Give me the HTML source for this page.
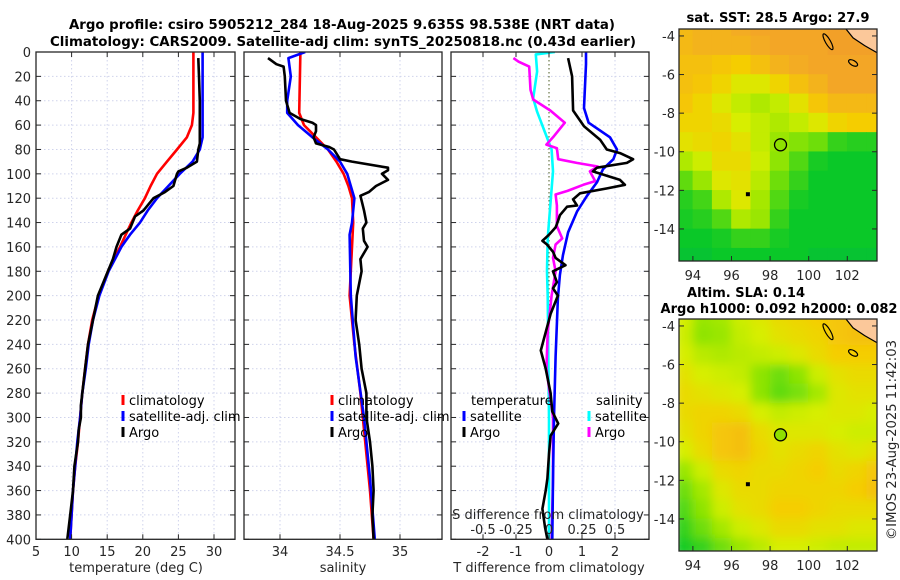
<!DOCTYPE html>
<html><head><meta charset="utf-8">
<style>
html,body{margin:0;padding:0;background:#fff;}
svg{display:block;font-family:"DejaVu Sans","Liberation Sans",sans-serif;}
.tk{font-size:13px;fill:#262626;}
.ttl{font-size:13.5px;font-weight:bold;fill:#000;}
.lg{font-size:13px;fill:#000;}
</style></head>
<body>
<svg id="fig" width="900" height="580" viewBox="0 0 900 580" xmlns="http://www.w3.org/2000/svg">
<defs>
<clipPath id="c1"><rect x="36" y="52" width="199" height="487"/></clipPath>
<clipPath id="c2"><rect x="244" y="52" width="198" height="487"/></clipPath>
<clipPath id="c3"><rect x="451" y="52" width="198" height="487"/></clipPath>
<clipPath id="m1"><rect x="679" y="29" width="198" height="232"/></clipPath>
<clipPath id="m2"><rect x="679" y="319" width="198" height="232"/></clipPath>
<filter id="blur" x="-5%" y="-5%" width="110%" height="110%"><feGaussianBlur stdDeviation="5"/></filter>
</defs>
<text class="ttl" x="342" y="29" text-anchor="middle" textLength="546" lengthAdjust="spacingAndGlyphs">Argo profile: csiro 5905212_284 18-Aug-2025 9.635S 98.538E (NRT data)</text>
<text class="ttl" x="343" y="46" text-anchor="middle" textLength="586" lengthAdjust="spacingAndGlyphs">Climatology: CARS2009. Satellite-adj clim: synTS_20250818.nc (0.43d earlier)</text>
<g id="g1"></g>
<g id="g2"></g>
<g id="g3"></g>
<g id="gm1"></g>
<g id="gm2"></g>
<text class="ttl" x="778" y="22" text-anchor="middle" textLength="183" lengthAdjust="spacingAndGlyphs">sat. SST: 28.5 Argo: 27.9</text>
<text class="ttl" x="746" y="297" text-anchor="middle" textLength="118" lengthAdjust="spacingAndGlyphs">Altim. SLA: 0.14</text>
<text class="ttl" x="779" y="313" text-anchor="middle" textLength="237" lengthAdjust="spacingAndGlyphs">Argo h1000: 0.092 h2000: 0.082</text>
<text class="tk" x="0" y="0" transform="translate(896,440) rotate(-90)" text-anchor="middle" textLength="200" lengthAdjust="spacingAndGlyphs">©IMOS 23-Aug-2025 11:42:03</text>
</svg>
<script>
// ---------- profile data ----------
const tempDepth = [0,10,20,30,40,50,60,70,80,90,100,110,120,130,140,150,160,180,200,220,240,260,280,300,320,340,360,380,400];
const tempClim = [27.1,27.1,27.1,27.1,27.1,27.1,26.9,26.2,24.8,23.4,22.0,21.1,20.3,19.3,18.4,17.6,16.8,15.1,13.8,12.9,12.3,11.9,11.5,11.2,10.9,10.5,10.2,10.0,9.8];
const tempSat = [28.4,28.4,28.4,28.4,28.4,28.4,28.4,28.4,28.0,27.0,25.2,23.6,22.0,20.7,19.6,18.2,17.0,15.2,13.9,13.0,12.4,12.0,11.5,11.2,10.8,10.5,10.2,10.0,9.8];
const argoTDepth = [5,20,40,60,75,80,90,95,98,100,110,115,120,130,135,145,150,160,170,180,190,200,220,240,260,280,290,300,310,320,340,360,380,400];
const argoT = [27.8,27.9,28.0,28.0,28.0,27.8,27.6,26.2,25.0,24.8,24.3,23.1,21.5,20.1,18.9,18.2,17.0,16.3,15.8,15.1,14.4,13.7,13.0,12.3,11.9,11.5,11.3,11.3,11.0,10.9,10.4,10.2,9.8,9.4];

const salDepth = [0,50,60,70,80,90,100,110,120,140,160,200,240,280,320,360,400];
const salClim = [34.17,34.16,34.2,34.3,34.4,34.47,34.53,34.57,34.6,34.61,34.6,34.58,34.62,34.67,34.71,34.75,34.78];
const salSatDepth = [0,5,20,40,50,60,70,80,90,100,120,140,150,200,250,300,350,400];
const salSat = [34.21,34.07,34.09,34.06,34.06,34.15,34.27,34.4,34.5,34.56,34.62,34.6,34.58,34.59,34.63,34.7,34.75,34.79];
const argoSDepth = [5,10,12,20,40,50,55,58,60,65,70,75,78,80,88,90,95,97,100,105,110,115,118,122,130,140,145,155,160,170,180,200,220,240,260,280,300,320,340,360,380,400];
const argoS = [33.9,33.97,34.03,34.04,34.05,34.08,34.17,34.27,34.3,34.3,34.28,34.3,34.41,34.45,34.5,34.6,34.9,34.9,34.85,34.9,34.8,34.74,34.67,34.68,34.7,34.72,34.69,34.7,34.73,34.67,34.68,34.64,34.63,34.66,34.68,34.72,34.72,34.75,34.77,34.78,34.77,34.78];

const tdSatDepth = [0,10,46,58,70,80,88,96,107,118,131,148,167,183,202,250,300,350,400];
const tdSat = [1.12,1.12,1.06,1.2,1.85,2.06,1.95,1.64,1.45,1.15,0.85,0.58,0.42,0.33,0.27,0.2,0.15,0.12,0.1];
const tdArgoDepth = [5,20,48,61,72,80,83,88,91,95,98,105,109,112,116,121,126,127,134,139,144,150,155,158,164,169,175,180,189,194,200,215,230,245,260,280,295,305,315,330,350,360,375,390,400];
const tdArgo = [0.58,0.7,0.73,1.06,1.55,1.75,2.15,2.55,2.36,1.45,1.33,2.15,2.3,1.76,0.94,0.73,0.85,0.55,0.33,0.27,0.2,0,-0.2,-0.06,0.12,0.2,0.5,0.12,0.24,0.12,0.27,0.05,-0.1,-0.25,-0.1,0.05,0.1,0.28,0.05,0,-0.05,-0.1,-0.2,-0.12,-0.05];
const sdSatDepth = [0,2,16,38,49,66,80,98,126,153,180,200,300,400];
const sdSat = [0.045,-0.1,-0.09,-0.12,-0.09,-0.03,0.02,0.03,0.01,-0.01,-0.015,-0.01,0,0];
const sdArgoDepth = [5,8,12,31,39,48,58,70,76,79,88,91,94,98,106,109,114,117,126,143,153,158,169,180,200,230,260,300,350,400];
const sdArgo = [-0.27,-0.23,-0.15,-0.14,-0.12,0.01,0.12,0.03,-0.02,0.06,0.07,0.21,0.37,0.31,0.35,0.26,0.14,0.05,0.06,0.06,0.1,0.05,0.03,0.05,0.02,-0.01,-0.02,0.03,0.03,0.02];

const depthTicks = [0,20,40,60,80,100,120,140,160,180,200,220,240,260,280,300,320,340,360,380,400];
const tempTicks = [5,10,15,20,25,30];
const salTicks = [34,34.5,35];
const tdTicks = [-2,-1,0,1,2];
const sdTicks = [-0.5,-0.25,0,0.25,0.5];
const sdTickLabels = ['-0.5','-0.25','0','0.25','0.5'];

// ---------- map data (color index 0 green .. 3 orange) ----------
const mapLon = [93.5,94.5,95.5,96.5,97.5,98.5,99.5,100.5,101.5,102.5,103.5];
const mapLat = [-3.5,-4.5,-5.5,-6.5,-7.5,-8.5,-9.5,-10.5,-11.5,-12.5,-13.5,-14.5,-15.5];
const sstGrid = [
[2.8,2.9,2.9,3,3.1,3.1,3.1,3.1,3.2,3.2,3.2],
[2.8,2.9,2.9,2.9,3,3.1,3.1,3.1,3.2,3.2,3.2],
[2.7,2.7,2.6,2.5,2.7,2.9,3,3.1,3.1,3.1,3.1],
[2.7,2.6,2.4,2.1,2.1,2.4,2.7,2.9,3.1,3.1,3.1],
[2.6,2.4,2.1,1.8,1.6,1.8,2.2,2.6,2.8,2.8,2.8],
[2.4,2.4,2.3,2.0,1.8,1.6,1.8,2.1,2.4,2.5,2.5],
[2.2,2.3,2.4,2.2,1.8,1.4,1.2,1.0,0.6,0.5,0.5],
[1.6,1.9,2.3,2.3,1.9,1.3,0.8,0.4,0.3,0.3,0.3],
[0.9,1.4,2.1,2.2,1.7,1.0,0.6,0.3,0.3,0.3,0.3],
[0.5,0.7,1.6,2.1,1.5,0.8,0.4,0.3,0.3,0.3,0.3],
[0.4,0.5,0.8,1.6,1.4,0.6,0.3,0.3,0.3,0.3,0.3],
[0.3,0.3,0.4,0.6,0.6,0.4,0.3,0.3,0.3,0.3,0.3],
[0.2,0.2,0.3,0.3,0.3,0.3,0.3,0.2,0.2,0.2,0.2]];
const slaGrid = [
[2.0,1.4,1.5,1.9,2.1,2.3,2.4,2.5,2.6,2.7,2.8],
[1.9,1.3,1.4,1.8,2.0,2.2,2.3,2.4,2.6,2.7,2.7],
[2.0,1.7,1.6,1.7,1.8,1.9,2.1,2.3,2.5,2.5,2.5],
[2.2,2.0,1.9,1.8,1.3,1.0,1.3,1.9,2.2,2.3,2.3],
[2.3,2.2,2.1,2.0,1.3,0.9,1.1,1.5,2.1,2.2,2.2],
[2.3,2.4,2.4,2.3,2.0,1.8,1.9,2.0,2.1,2.1,2.0],
[2.2,2.4,2.6,2.7,2.3,2.1,2.1,2.1,2.0,1.9,1.9],
[2.0,2.3,2.6,2.7,2.4,2.2,2.3,2.4,2.2,2.1,2.2],
[1.4,1.9,2.3,2.4,2.3,2.3,2.4,2.5,2.3,2.4,2.6],
[1.0,1.5,2.1,2.3,2.3,2.4,2.4,2.4,2.4,2.5,2.7],
[0.8,1.3,1.9,2.2,2.3,2.5,2.5,2.4,2.3,2.3,2.3],
[0.6,1.0,1.5,1.9,2.1,2.3,2.3,2.2,2.2,2.1,2.1],
[0.4,0.6,1.0,1.4,1.7,2.0,2.0,1.9,1.8,1.8,1.8]];
const lonTicks = [94,96,98,100,102];
const latTicks = [-4,-6,-8,-10,-12,-14];
const argoPos = [98.54,-9.64];
const otherPos = [96.85,-12.2];

const NS = 'http://www.w3.org/2000/svg';
function mk(tag, attrs, parent){const e=document.createElementNS(NS,tag);for(const k in attrs)e.setAttribute(k,attrs[k]);parent.appendChild(e);return e;}

const Y0=52, Y1=539.3;
const yD = d => Y0 + d*(Y1-Y0)/400;
const xT = t => 36 + (t-5)*35.6/5;
const xS = s => 280 + (s-34)*120;
const xTd = v => 549 + v*33;
const xSd = v => 549 + v*132;

function frame(g, x0, x1, clip, xticks, xf){
  for(const d of depthTicks){ const l=mk('line',{x1:x0,x2:x1,y1:yD(d),y2:yD(d),stroke:'#cfd3ec','stroke-width':1,'stroke-dasharray':'1.5,2.5'},g);
      }
  xticks.forEach(t=>{ const l=mk('line',{x1:xf(t),x2:xf(t),y1:Y0,y2:Y1,stroke:'#cfd3ec','stroke-width':1,'stroke-dasharray':'1.5,2.5'},g);
      });
}
function box(g,x0,x1,xticks,xf,labels){
  const r=mk('rect',{x:x0,y:Y0,width:x1-x0,height:Y1-Y0,fill:'none',stroke:'#262626','stroke-width':1.3},g);
   
  for(const d of depthTicks){ mk('line',{x1:x0,x2:x0+5,y1:yD(d),y2:yD(d),stroke:'#262626'},g); mk('line',{x1:x1-5,x2:x1,y1:yD(d),y2:yD(d),stroke:'#262626'},g);}
  xticks.forEach((t,i)=>{ mk('line',{x1:xf(t),x2:xf(t),y1:Y1,y2:Y1-5,stroke:'#262626'},g); mk('line',{x1:xf(t),x2:xf(t),y1:Y0,y2:Y0+5,stroke:'#262626'},g);
    const tx=mk('text',{x:xf(t),y:556,'text-anchor':'middle',class:'tk'},g); tx.textContent=labels[i];
      });
}
function line(g, depths, vals, xf, color, name, clip){
  let d=''; depths.forEach((z,i)=>{ d+=(i?'L':'M')+xf(vals[i]).toFixed(1)+','+yD(z).toFixed(1); });
  const p=mk('path',{d:d,fill:'none',stroke:color,'stroke-width':2.6,'stroke-linejoin':'round','clip-path':'url(#'+clip+')'},g);
   
}
function legend(g, x, y, color, label){
  mk('line',{x1:x,x2:x,y1:y-7,y2:y+3,stroke:color,'stroke-width':3},g);
  const t=mk('text',{x:x+6,y:y+3,class:'lg'},g); t.textContent=label;
   
}

// Panel 1
const g1=document.getElementById('g1');
frame(g1,36,235,'c1',tempTicks,xT);
line(g1,tempDepth,tempClim,xT,'#ff0000','temp-climatology-line','c1');
line(g1,tempDepth,tempSat,xT,'#0000ff','temp-satellite-line','c1');
line(g1,argoTDepth,argoT,xT,'#000000','temp-argo-line','c1');
box(g1,36,235,tempTicks,xT,tempTicks.map(String));
depthTicks.forEach(d=>{ const t=mk('text',{x:31,y:yD(d)+5,'text-anchor':'end',class:'tk'},g1); t.textContent=d;
    });
{const t=mk('text',{x:136,y:572,'text-anchor':'middle',class:'tk'},g1); t.textContent='temperature (deg C)';
  }
legend(g1,123,402,'#ff0000','climatology');
legend(g1,123,418,'#0000ff','satellite-adj. clim');
legend(g1,123,434,'#000000','Argo');

// Panel 2
const g2=document.getElementById('g2');
frame(g2,244,442,'c2',salTicks,xS);
line(g2,salDepth,salClim,xS,'#ff0000','sal-climatology-line','c2');
line(g2,salSatDepth,salSat,xS,'#0000ff','sal-satellite-line','c2');
line(g2,argoSDepth,argoS,xS,'#000000','sal-argo-line','c2');
box(g2,244,442,salTicks,xS,['34','34.5','35']);
{const t=mk('text',{x:343,y:572,'text-anchor':'middle',class:'tk'},g2); t.textContent='salinity';
  }
legend(g2,332,402,'#ff0000','climatology');
legend(g2,332,418,'#0000ff','satellite-adj. clim');
legend(g2,332,434,'#000000','Argo');

// Panel 3
const g3=document.getElementById('g3');
frame(g3,451,649,'c3',tdTicks,xTd);
mk('line',{x1:549,x2:549,y1:Y0,y2:Y1,stroke:'#4a5a20','stroke-width':1,'stroke-dasharray':'1.5,2.5'},g3);
line(g3,sdSatDepth,sdSat,xSd,'#00ffff','sdiff-satellite-line','c3');
line(g3,sdArgoDepth,sdArgo,xSd,'#ff00ff','sdiff-argo-line','c3');
line(g3,tdSatDepth,tdSat,xTd,'#0000ff','tdiff-satellite-line','c3');
line(g3,tdArgoDepth,tdArgo,xTd,'#000000','tdiff-argo-line','c3');
box(g3,451,649,tdTicks,xTd,tdTicks.map(String));
sdTicks.forEach((v,i)=>{ const t=mk('text',{x:xSd(v),y:534,'text-anchor':'middle',class:'tk'},g3); t.textContent=sdTickLabels[i];
    });
{const t=mk('text',{x:548,y:519,'text-anchor':'middle',class:'tk'},g3); t.textContent='S difference from climatology';
  }
{const t=mk('text',{x:549,y:572,'text-anchor':'middle',class:'tk'},g3); t.textContent='T difference from climatology';
  }
{const t=mk('text',{x:471,y:405,class:'lg'},g3); t.textContent='temperature';
  }
{const t=mk('text',{x:596,y:405,class:'lg'},g3); t.textContent='salinity';
  }
legend(g3,464,418,'#0000ff','satellite');
legend(g3,464,434,'#000000','Argo');
legend(g3,589,418,'#00ffff','satellite');
legend(g3,589,434,'#ff00ff','Argo');

// ---------- maps ----------
const stops=[[0,[0,185,70]],[0.3,[10,200,40]],[1,[110,222,10]],[1.5,[165,232,0]],[2,[215,238,0]],[2.5,[245,205,0]],[3,[243,172,35]],[3.2,[242,160,40]]];
function col(v){ for(let i=1;i<stops.length;i++){ if(v<=stops[i][0]){ const a=stops[i-1],b=stops[i],f=(v-a[0])/(b[0]-a[0]);
  return 'rgb('+a[1].map((c,k)=>Math.round(c+(b[1][k]-c)*f)).join(',')+')'; } } return 'rgb(242,160,40)'; }
const PX=19.3;
function drawMap(gid, top, grid, clip, blur, name){
  const g=document.getElementById(gid);
  const xL = lon => 679 + (lon-93.28)*PX;
  const yL = lat => top + (-3.64-lat)*PX;
  const cg=mk('g',{'clip-path':'url(#'+clip+')'},g);
  const cells=mk('g',blur?{filter:'url(#blur)'}:{},cg);
  mapLat.forEach((la,r)=>mapLon.forEach((lo,c)=>{
    const rc=mk('rect',{x:xL(lo-0.5)-0.3,y:yL(la+0.5)-0.3,width:PX+0.6,height:PX+0.6,fill:col(grid[r][c])},cells);
     
  }));
  const land=mk('path',{d:'M'+xL(101.9)+','+yL(-3.6)+' L'+xL(102.3)+','+yL(-4.1)+' L'+xL(102.9)+','+yL(-4.5)+' L'+xL(103.6)+','+yL(-4.9)+' L'+xL(103.6)+','+yL(-3.6)+' Z',fill:'#fbc89a',stroke:'#000','stroke-width':1.2},cg);
   
  mk('ellipse',{cx:xL(101.0),cy:yL(-4.3),rx:2.5,ry:9,transform:'rotate(-30 '+xL(101.0)+' '+yL(-4.3)+')',fill:'none',stroke:'#000','stroke-width':1.2},cg);
  mk('ellipse',{cx:xL(102.3),cy:yL(-5.4),rx:5,ry:2.5,transform:'rotate(30 '+xL(102.3)+' '+yL(-5.4)+')',fill:'none',stroke:'#000','stroke-width':1.2},cg);
  const mk1=mk('circle',{cx:xL(argoPos[0]),cy:yL(argoPos[1]),r:6,fill:'#8ee000',stroke:'#000','stroke-width':1.3},g);
   
  mk('rect',{x:xL(otherPos[0])-2,y:yL(otherPos[1])-2,width:4,height:4,fill:'#000'},g);
  const b=mk('rect',{x:679,y:top,width:198,height:232,fill:'none',stroke:'#262626','stroke-width':1.3},g);
   
  lonTicks.forEach(lo=>{ mk('line',{x1:xL(lo),x2:xL(lo),y1:top+232,y2:top+227,stroke:'#262626'},g);
    const t=mk('text',{x:xL(lo),y:top+251,'text-anchor':'middle',class:'tk'},g); t.textContent=lo;
      });
  latTicks.forEach(la=>{ mk('line',{x1:679,x2:684,y1:yL(la),y2:yL(la),stroke:'#262626'},g); mk('line',{x1:872,x2:877,y1:yL(la),y2:yL(la),stroke:'#262626'},g);
    const t=mk('text',{x:675,y:yL(la)+5,'text-anchor':'end',class:'tk'},g); t.textContent=la;
      });
}
drawMap('gm1',29,sstGrid,'m1',false,'sst');
drawMap('gm2',319,slaGrid,'m2',true,'sla');
</script>
</body></html>
